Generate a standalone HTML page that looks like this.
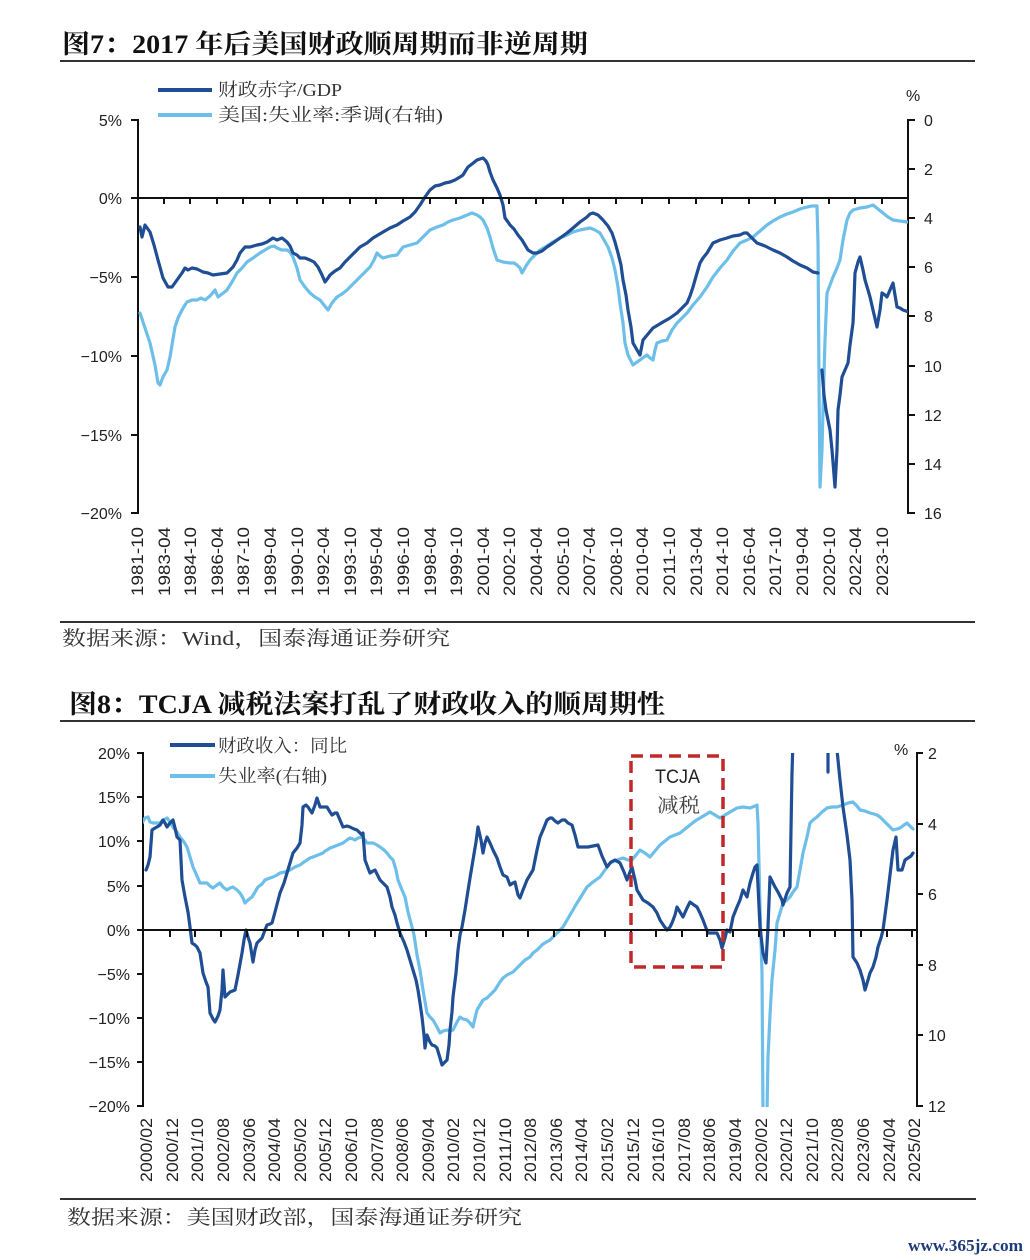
<!DOCTYPE html>
<html><head><meta charset="utf-8"><style>
html,body{margin:0;padding:0;background:#fff;}
svg{display:block;}
.t{font-family:"Liberation Serif","Noto Serif CJK SC",serif;font-weight:bold;fill:#111;}
.s{font-family:"Liberation Serif","Noto Serif CJK SC",serif;fill:#333;}
.a{font-family:"Liberation Sans","Noto Sans CJK SC",sans-serif;fill:#222;font-size:16px;}
.x{font-family:"Liberation Sans",sans-serif;fill:#222;font-size:17px;}
.lg{font-family:"Liberation Serif","Noto Serif CJK SC",serif;fill:#333;font-size:18px;}
.d{fill:none;stroke:#1f4e94;stroke-width:3.2;stroke-linejoin:round;stroke-linecap:round;}
.l{fill:none;stroke:#6dbfea;stroke-width:3.2;stroke-linejoin:round;stroke-linecap:round;}
</style></head><body>
<svg width="1030" height="1260" viewBox="0 0 1030 1260" xmlns="http://www.w3.org/2000/svg">
<rect width="1030" height="1260" fill="#fff"/>
<defs>
<clipPath id="c1"><rect x="138" y="110" width="770" height="405"/></clipPath>
<clipPath id="c2"><rect x="143" y="753" width="774" height="354"/></clipPath>
</defs>

<!-- ===== Chart 1 ===== -->
<text class="t" x="62" y="53" font-size="26" textLength="526" lengthAdjust="spacingAndGlyphs">图7：2017 年后美国财政顺周期而非逆周期</text>
<line x1="60" y1="61" x2="975" y2="61" stroke="#333" stroke-width="2"/>

<!-- legend -->
<line x1="158" y1="90" x2="212" y2="90" stroke="#1f4e94" stroke-width="4"/>
<text class="lg" x="218" y="96" textLength="124" lengthAdjust="spacingAndGlyphs">财政赤字/GDP</text>
<line x1="158" y1="115" x2="212" y2="115" stroke="#6dbfea" stroke-width="4"/>
<text class="lg" x="218" y="121" textLength="225" lengthAdjust="spacingAndGlyphs">美国:失业率:季调(右轴)</text>

<!-- axes -->
<g stroke="#111" stroke-width="2">
<line x1="138" y1="119" x2="138" y2="514"/>
<line x1="131" y1="120" x2="138" y2="120"/>
<line x1="131" y1="198" x2="138" y2="198"/>
<line x1="131" y1="277" x2="138" y2="277"/>
<line x1="131" y1="356" x2="138" y2="356"/>
<line x1="131" y1="435" x2="138" y2="435"/>
<line x1="131" y1="513" x2="138" y2="513"/>
<line x1="908" y1="119" x2="908" y2="514"/>
<line x1="908" y1="120" x2="915" y2="120"/>
<line x1="908" y1="169" x2="915" y2="169"/>
<line x1="908" y1="218" x2="915" y2="218"/>
<line x1="908" y1="267" x2="915" y2="267"/>
<line x1="908" y1="316" x2="915" y2="316"/>
<line x1="908" y1="366" x2="915" y2="366"/>
<line x1="908" y1="415" x2="915" y2="415"/>
<line x1="908" y1="464" x2="915" y2="464"/>
<line x1="908" y1="513" x2="915" y2="513"/>
</g>
<g class="a" text-anchor="end">
<text x="122" y="126">5%</text>
<text x="122" y="204">0%</text>
<text x="122" y="283">−5%</text>
<text x="122" y="362">−10%</text>
<text x="122" y="441">−15%</text>
<text x="122" y="519">−20%</text>
</g>
<g class="a">
<text x="906" y="101">%</text>
<text x="924" y="126">0</text>
<text x="924" y="175">2</text>
<text x="924" y="224">4</text>
<text x="924" y="273">6</text>
<text x="924" y="322">8</text>
<text x="924" y="372">10</text>
<text x="924" y="421">12</text>
<text x="924" y="470">14</text>
<text x="924" y="519">16</text>
</g>

<g clip-path="url(#c1)">
<polyline class="l" points="140,313 145,328 150,343 155,365 158,383 160,385 163,377 167,370 170,357 172,345 175,327 178,318 182,310 185,305 187,302 192,300 197,300 201,298 205,300 210,296 215,290 218,297 222,294 227,290 232,282 237,273 242,268 247,262 253,258 260,253 265,250 270,247 274,246 277,248 282,250 287,250 290,252 293,257 297,268 300,280 305,287 310,293 315,297 320,300 324,305 328,310 332,303 337,297 342,294 347,290 353,284 360,277 365,272 370,267 374,260 377,253 380,256 383,258 390,256 397,255 400,251 403,247 410,245 417,243 420,240 423,237 427,233 430,230 437,227 443,225 448,222 453,220 460,218 467,215 472,213 477,215 480,217 483,220 487,228 490,237 493,248 497,260 503,262 510,263 514,263 517,265 520,268 522,273 526,266 530,260 535,255 540,250 547,246 553,242 560,238 567,235 573,232 580,230 585,229 590,228 595,230 600,233 604,240 608,247 612,258 615,270 618,287 620,303 623,323 625,343 628,355 633,365 637,362 640,360 644,357 647,355 650,358 653,360 655,350 657,343 662,341 667,340 672,330 677,323 682,318 687,313 693,305 700,297 707,287 713,277 720,268 727,260 733,251 740,243 747,240 753,237 760,231 767,225 773,221 780,217 787,214 793,212 800,209 807,207 812,206 817,206 818,243 819,380 820,487 822,450 823,410 825,340 827,293 830,285 833,277 837,268 840,260 843,240 847,220 850,213 853,210 860,208 867,207 870,206 873,205 878,209 883,213 888,217 893,220 900,221 907,222"/>
<polyline class="d" points="140,227 142,237 145,225 150,232 154,245 158,260 163,278 168,287 172,287 177,280 182,273 185,268 188,270 192,268 197,269 203,272 208,273 213,275 220,274 227,273 233,267 237,260 240,253 245,247 250,247 257,245 262,244 267,242 273,238 277,240 282,238 287,242 290,246 293,253 297,255 300,258 305,258 310,260 314,262 318,267 322,275 325,282 328,278 330,275 335,271 340,268 345,262 350,257 355,252 360,247 367,243 373,238 378,235 383,232 390,228 397,225 403,221 410,217 415,212 420,205 425,197 430,190 435,186 440,185 445,183 450,182 455,180 460,177 463,175 466,170 468,167 472,164 477,160 480,159 483,158 486,161 488,165 490,172 493,180 497,188 500,195 503,205 505,218 508,222 510,225 514,229 518,235 522,240 528,250 533,253 537,253 542,251 547,247 553,243 560,238 567,233 573,228 580,222 587,217 590,214 593,213 598,215 603,220 608,226 612,233 615,242 618,253 621,265 623,280 626,295 628,310 631,327 633,343 637,350 640,355 643,340 648,334 653,328 658,325 663,322 670,318 677,313 682,308 687,303 690,296 693,287 697,273 700,263 703,258 707,253 710,248 713,243 720,240 727,238 733,236 740,235 744,233 747,233 752,238 757,243 765,246 773,250 780,253 787,257 793,261 800,265 807,268 813,272 818,273"/>
<polyline class="d" points="822,370 824,395 826,410 828,420 830,430 832,450 835,487 837,450 838,410 840,395 842,377 845,370 848,363 850,345 853,323 854,300 855,273 858,262 860,257 863,270 865,280 868,290 870,297 873,310 877,327 880,310 882,293 885,295 887,297 890,290 893,283 895,295 897,307 900,308 903,310 906,311 908,312"/>
</g>

<!-- zero line with ticks -->
<line x1="138" y1="198" x2="908" y2="198" stroke="#111" stroke-width="2"/>
<path stroke="#111" stroke-width="2" d="M164,198v6M190,198v6M217,198v6M243,198v6M270,198v6M297,198v6M323,198v6M350,198v6M376,198v6M403,198v6M430,198v6M456,198v6M483,198v6M509,198v6M536,198v6M563,198v6M589,198v6M616,198v6M642,198v6M669,198v6M696,198v6M722,198v6M749,198v6M775,198v6M802,198v6M829,198v6M855,198v6M882,198v6"/>

<g class="x" text-anchor="end">
<text transform="translate(143,527) rotate(-90)" textLength="69" lengthAdjust="spacingAndGlyphs">1981-10</text>
<text transform="translate(170,527) rotate(-90)" textLength="69" lengthAdjust="spacingAndGlyphs">1983-04</text>
<text transform="translate(196,527) rotate(-90)" textLength="69" lengthAdjust="spacingAndGlyphs">1984-10</text>
<text transform="translate(223,527) rotate(-90)" textLength="69" lengthAdjust="spacingAndGlyphs">1986-04</text>
<text transform="translate(249,527) rotate(-90)" textLength="69" lengthAdjust="spacingAndGlyphs">1987-10</text>
<text transform="translate(276,527) rotate(-90)" textLength="69" lengthAdjust="spacingAndGlyphs">1989-04</text>
<text transform="translate(303,527) rotate(-90)" textLength="69" lengthAdjust="spacingAndGlyphs">1990-10</text>
<text transform="translate(329,527) rotate(-90)" textLength="69" lengthAdjust="spacingAndGlyphs">1992-04</text>
<text transform="translate(356,527) rotate(-90)" textLength="69" lengthAdjust="spacingAndGlyphs">1993-10</text>
<text transform="translate(382,527) rotate(-90)" textLength="69" lengthAdjust="spacingAndGlyphs">1995-04</text>
<text transform="translate(409,527) rotate(-90)" textLength="69" lengthAdjust="spacingAndGlyphs">1996-10</text>
<text transform="translate(436,527) rotate(-90)" textLength="69" lengthAdjust="spacingAndGlyphs">1998-04</text>
<text transform="translate(462,527) rotate(-90)" textLength="69" lengthAdjust="spacingAndGlyphs">1999-10</text>
<text transform="translate(489,527) rotate(-90)" textLength="69" lengthAdjust="spacingAndGlyphs">2001-04</text>
<text transform="translate(515,527) rotate(-90)" textLength="69" lengthAdjust="spacingAndGlyphs">2002-10</text>
<text transform="translate(542,527) rotate(-90)" textLength="69" lengthAdjust="spacingAndGlyphs">2004-04</text>
<text transform="translate(569,527) rotate(-90)" textLength="69" lengthAdjust="spacingAndGlyphs">2005-10</text>
<text transform="translate(595,527) rotate(-90)" textLength="69" lengthAdjust="spacingAndGlyphs">2007-04</text>
<text transform="translate(622,527) rotate(-90)" textLength="69" lengthAdjust="spacingAndGlyphs">2008-10</text>
<text transform="translate(648,527) rotate(-90)" textLength="69" lengthAdjust="spacingAndGlyphs">2010-04</text>
<text transform="translate(675,527) rotate(-90)" textLength="69" lengthAdjust="spacingAndGlyphs">2011-10</text>
<text transform="translate(702,527) rotate(-90)" textLength="69" lengthAdjust="spacingAndGlyphs">2013-04</text>
<text transform="translate(728,527) rotate(-90)" textLength="69" lengthAdjust="spacingAndGlyphs">2014-10</text>
<text transform="translate(755,527) rotate(-90)" textLength="69" lengthAdjust="spacingAndGlyphs">2016-04</text>
<text transform="translate(781,527) rotate(-90)" textLength="69" lengthAdjust="spacingAndGlyphs">2017-10</text>
<text transform="translate(808,527) rotate(-90)" textLength="69" lengthAdjust="spacingAndGlyphs">2019-04</text>
<text transform="translate(835,527) rotate(-90)" textLength="69" lengthAdjust="spacingAndGlyphs">2020-10</text>
<text transform="translate(861,527) rotate(-90)" textLength="69" lengthAdjust="spacingAndGlyphs">2022-04</text>
<text transform="translate(888,527) rotate(-90)" textLength="69" lengthAdjust="spacingAndGlyphs">2023-10</text>
</g>

<line x1="60" y1="622" x2="975" y2="622" stroke="#333" stroke-width="2"/>
<text class="s" x="62" y="645" font-size="20" textLength="388" lengthAdjust="spacingAndGlyphs">数据来源：Wind，国泰海通证券研究</text>

<!-- ===== Chart 2 ===== -->
<text class="t" x="69" y="713" font-size="26" textLength="596" lengthAdjust="spacingAndGlyphs">图8：TCJA 减税法案打乱了财政收入的顺周期性</text>
<line x1="60" y1="721" x2="975" y2="721" stroke="#333" stroke-width="2"/>

<line x1="170" y1="745" x2="215" y2="745" stroke="#1f4e94" stroke-width="4"/>
<text class="lg" x="218" y="752" textLength="129" lengthAdjust="spacingAndGlyphs">财政收入：同比</text>
<line x1="170" y1="776" x2="215" y2="776" stroke="#6dbfea" stroke-width="4"/>
<text class="lg" x="218" y="782" textLength="109" lengthAdjust="spacingAndGlyphs">失业率(右轴)</text>

<g stroke="#111" stroke-width="2">
<line x1="143" y1="752" x2="143" y2="1107"/>
<line x1="137" y1="753" x2="143" y2="753"/>
<line x1="137" y1="797" x2="143" y2="797"/>
<line x1="137" y1="841" x2="143" y2="841"/>
<line x1="137" y1="886" x2="143" y2="886"/>
<line x1="137" y1="930" x2="143" y2="930"/>
<line x1="137" y1="974" x2="143" y2="974"/>
<line x1="137" y1="1018" x2="143" y2="1018"/>
<line x1="137" y1="1062" x2="143" y2="1062"/>
<line x1="137" y1="1106" x2="143" y2="1106"/>
<line x1="917" y1="752" x2="917" y2="1107"/>
<line x1="917" y1="753" x2="923" y2="753"/>
<line x1="917" y1="824" x2="923" y2="824"/>
<line x1="917" y1="894" x2="923" y2="894"/>
<line x1="917" y1="965" x2="923" y2="965"/>
<line x1="917" y1="1035" x2="923" y2="1035"/>
<line x1="917" y1="1106" x2="923" y2="1106"/>
</g>
<g class="a" text-anchor="end">
<text x="130" y="759">20%</text>
<text x="130" y="803">15%</text>
<text x="130" y="847">10%</text>
<text x="130" y="892">5%</text>
<text x="130" y="936">0%</text>
<text x="130" y="980">−5%</text>
<text x="130" y="1024">−10%</text>
<text x="130" y="1068">−15%</text>
<text x="130" y="1112">−20%</text>
</g>
<g class="a">
<text x="894" y="755">%</text>
<text x="928" y="759">2</text>
<text x="928" y="830">4</text>
<text x="928" y="900">6</text>
<text x="928" y="971">8</text>
<text x="928" y="1041">10</text>
<text x="928" y="1112">12</text>
</g>

<g clip-path="url(#c2)">
<polyline class="l" points="142,823 145,818 148,817 150,822 153,823 157,823 160,823 163,820 167,818 170,822 173,827 177,832 180,837 184,842 187,847 190,857 193,867 197,876 200,883 204,883 207,883 210,886 213,888 217,885 220,883 223,887 227,890 230,888 233,887 237,890 240,893 243,898 245,903 248,900 252,897 255,892 258,887 262,884 265,880 270,878 273,877 277,875 280,873 285,872 290,870 295,867 300,865 304,862 307,860 310,858 313,857 318,855 323,853 325,851 327,850 330,848 333,847 338,845 343,843 347,840 350,838 353,839 355,840 358,838 362,837 365,840 367,843 370,843 373,843 377,845 380,847 384,850 387,853 390,857 393,860 396,870 398,880 402,890 405,897 408,912 412,927 414,935 417,955 420,970 423,990 427,1013 430,1017 433,1020 437,1027 440,1033 443,1031 447,1030 450,1031 453,1030 457,1022 460,1017 463,1019 467,1020 470,1023 473,1027 475,1018 477,1010 480,1005 483,1000 487,998 490,995 495,990 500,982 503,978 507,975 513,972 520,965 525,960 530,957 533,953 537,950 543,944 550,940 557,933 563,927 570,915 577,903 582,895 587,887 593,882 600,877 605,870 610,863 617,860 623,858 628,860 632,860 636,855 640,850 645,853 650,857 655,851 660,845 665,841 670,837 675,835 680,833 685,829 690,825 695,821 700,818 705,815 710,812 715,815 720,818 725,815 730,812 737,808 743,807 750,808 755,806 757,805 758,823 760,907 762,973 763,1112 767,1112 768,1057 770,1015 772,980 775,950 777,923 780,913 783,903 787,900 790,897 793,892 797,887 800,870 803,853 807,837 810,823 813,820 817,817 822,812 827,808 832,807 837,807 840,806 843,805 848,803 853,802 857,806 860,810 865,811 870,813 874,814 877,815 880,817 883,820 888,825 893,830 897,829 900,828 904,825 907,823 910,826 913,829"/>
<polyline class="d" points="146,870 148,865 150,857 152,830 155,828 157,827 160,825 163,820 165,823 167,827 170,823 173,820 175,828 177,837 180,840 182,880 185,897 188,912 190,927 192,943 195,945 197,947 200,953 203,973 206,982 208,987 210,1013 213,1019 215,1022 218,1016 220,1010 222,990 223,970 225,997 228,994 230,992 235,990 238,975 242,953 244,940 246,930 248,937 250,943 253,962 255,950 257,943 260,940 262,938 265,930 267,925 270,924 272,923 275,912 280,893 284,883 287,873 290,863 293,853 297,848 300,843 302,825 303,807 306,805 308,807 312,813 315,805 317,798 320,807 324,807 327,807 330,812 332,815 335,813 337,813 340,820 343,827 347,826 350,827 354,829 357,830 360,833 362,835 363,833 365,860 368,868 370,873 373,871 375,870 378,876 380,880 384,884 387,887 390,897 392,907 395,915 397,923 400,933 404,942 407,950 410,960 413,970 416,980 418,990 420,1003 422,1017 424,1035 425,1048 427,1035 430,1042 432,1045 435,1046 437,1048 440,1058 442,1065 445,1062 447,1060 449,1045 450,1030 452,1012 453,997 456,973 458,950 460,935 462,927 465,910 467,897 470,878 473,860 476,842 478,827 481,840 483,853 485,843 487,837 490,843 493,850 497,858 500,867 503,875 507,877 510,885 513,883 515,882 518,895 520,898 523,890 527,880 530,875 533,870 537,850 540,837 543,830 547,820 550,818 552,818 555,821 558,823 562,820 565,820 568,823 572,825 575,835 578,847 583,847 588,847 593,846 598,845 602,856 607,867 611,862 615,860 620,863 624,872 627,880 630,872 632,867 635,880 637,890 640,895 643,900 648,903 653,907 657,913 660,920 664,926 667,930 670,927 672,923 675,915 677,907 680,912 683,917 687,908 690,902 694,905 697,907 700,913 703,920 706,928 708,933 713,933 717,933 720,940 722,948 725,938 727,930 730,932 733,917 737,907 740,900 743,890 747,897 750,883 753,873 755,867 757,865 760,927 763,953 766,963 768,927 770,877 775,887 778,892 782,900 783,905 787,893 790,887 792,773 793,740"/>
<polyline class="d" points="828,750 828,772"/>
<polyline class="d" points="836,740 837,750 840,780 843,807 847,835 850,860 852,900 853,957 857,963 860,970 863,980 865,990 868,980 870,973 873,967 876,957 878,947 881,938 883,930 885,915 887,900 890,875 893,850 896,837 898,870 902,870 905,860 908,858 911,856 913,853"/>
</g>

<line x1="143" y1="930" x2="917" y2="930" stroke="#111" stroke-width="2"/>
<path stroke="#111" stroke-width="2" d="M170,930v7M195,930v7M221,930v7M247,930v7M272,930v7M298,930v7M323,930v7M349,930v7M375,930v7M400,930v7M426,930v7M451,930v7M477,930v7M503,930v7M528,930v7M554,930v7M579,930v7M605,930v7M631,930v7M656,930v7M682,930v7M707,930v7M733,930v7M759,930v7M784,930v7M810,930v7M835,930v7M861,930v7M887,930v7M912,930v7"/>

<!-- TCJA box -->
<rect x="631" y="756" width="92" height="211" fill="none" stroke="#c0282a" stroke-width="3.5" stroke-dasharray="12,7"/>
<text x="655" y="783" font-family="Liberation Sans, sans-serif" font-size="19" fill="#222" textLength="45" lengthAdjust="spacingAndGlyphs">TCJA</text>
<text x="657" y="812" font-family="Liberation Serif, 'Noto Serif CJK SC', serif" font-size="20" fill="#444" textLength="43" lengthAdjust="spacingAndGlyphs">减税</text>

<g class="x" text-anchor="end">
<text transform="translate(152,1118) rotate(-90)" textLength="64" lengthAdjust="spacingAndGlyphs">2000/02</text>
<text transform="translate(178,1118) rotate(-90)" textLength="64" lengthAdjust="spacingAndGlyphs">2000/12</text>
<text transform="translate(203,1118) rotate(-90)" textLength="64" lengthAdjust="spacingAndGlyphs">2001/10</text>
<text transform="translate(229,1118) rotate(-90)" textLength="64" lengthAdjust="spacingAndGlyphs">2002/08</text>
<text transform="translate(255,1118) rotate(-90)" textLength="64" lengthAdjust="spacingAndGlyphs">2003/06</text>
<text transform="translate(280,1118) rotate(-90)" textLength="64" lengthAdjust="spacingAndGlyphs">2004/04</text>
<text transform="translate(306,1118) rotate(-90)" textLength="64" lengthAdjust="spacingAndGlyphs">2005/02</text>
<text transform="translate(331,1118) rotate(-90)" textLength="64" lengthAdjust="spacingAndGlyphs">2005/12</text>
<text transform="translate(357,1118) rotate(-90)" textLength="64" lengthAdjust="spacingAndGlyphs">2006/10</text>
<text transform="translate(383,1118) rotate(-90)" textLength="64" lengthAdjust="spacingAndGlyphs">2007/08</text>
<text transform="translate(408,1118) rotate(-90)" textLength="64" lengthAdjust="spacingAndGlyphs">2008/06</text>
<text transform="translate(434,1118) rotate(-90)" textLength="64" lengthAdjust="spacingAndGlyphs">2009/04</text>
<text transform="translate(459,1118) rotate(-90)" textLength="64" lengthAdjust="spacingAndGlyphs">2010/02</text>
<text transform="translate(485,1118) rotate(-90)" textLength="64" lengthAdjust="spacingAndGlyphs">2010/12</text>
<text transform="translate(511,1118) rotate(-90)" textLength="64" lengthAdjust="spacingAndGlyphs">2011/10</text>
<text transform="translate(536,1118) rotate(-90)" textLength="64" lengthAdjust="spacingAndGlyphs">2012/08</text>
<text transform="translate(562,1118) rotate(-90)" textLength="64" lengthAdjust="spacingAndGlyphs">2013/06</text>
<text transform="translate(587,1118) rotate(-90)" textLength="64" lengthAdjust="spacingAndGlyphs">2014/04</text>
<text transform="translate(613,1118) rotate(-90)" textLength="64" lengthAdjust="spacingAndGlyphs">2015/02</text>
<text transform="translate(639,1118) rotate(-90)" textLength="64" lengthAdjust="spacingAndGlyphs">2015/12</text>
<text transform="translate(664,1118) rotate(-90)" textLength="64" lengthAdjust="spacingAndGlyphs">2016/10</text>
<text transform="translate(690,1118) rotate(-90)" textLength="64" lengthAdjust="spacingAndGlyphs">2017/08</text>
<text transform="translate(715,1118) rotate(-90)" textLength="64" lengthAdjust="spacingAndGlyphs">2018/06</text>
<text transform="translate(741,1118) rotate(-90)" textLength="64" lengthAdjust="spacingAndGlyphs">2019/04</text>
<text transform="translate(767,1118) rotate(-90)" textLength="64" lengthAdjust="spacingAndGlyphs">2020/02</text>
<text transform="translate(792,1118) rotate(-90)" textLength="64" lengthAdjust="spacingAndGlyphs">2020/12</text>
<text transform="translate(818,1118) rotate(-90)" textLength="64" lengthAdjust="spacingAndGlyphs">2021/10</text>
<text transform="translate(843,1118) rotate(-90)" textLength="64" lengthAdjust="spacingAndGlyphs">2022/08</text>
<text transform="translate(869,1118) rotate(-90)" textLength="64" lengthAdjust="spacingAndGlyphs">2023/06</text>
<text transform="translate(895,1118) rotate(-90)" textLength="64" lengthAdjust="spacingAndGlyphs">2024/04</text>
<text transform="translate(920,1118) rotate(-90)" textLength="64" lengthAdjust="spacingAndGlyphs">2025/02</text>
</g>

<line x1="60" y1="1199" x2="976" y2="1199" stroke="#333" stroke-width="2"/>
<text class="s" x="67" y="1224" font-size="20" textLength="455" lengthAdjust="spacingAndGlyphs">数据来源：美国财政部，国泰海通证券研究</text>

<text x="908" y="1251" font-family="Liberation Serif, serif" font-weight="bold" font-size="17" fill="#1d3b7a" textLength="115" lengthAdjust="spacingAndGlyphs">www.365jz.com</text>
</svg>
</body></html>
